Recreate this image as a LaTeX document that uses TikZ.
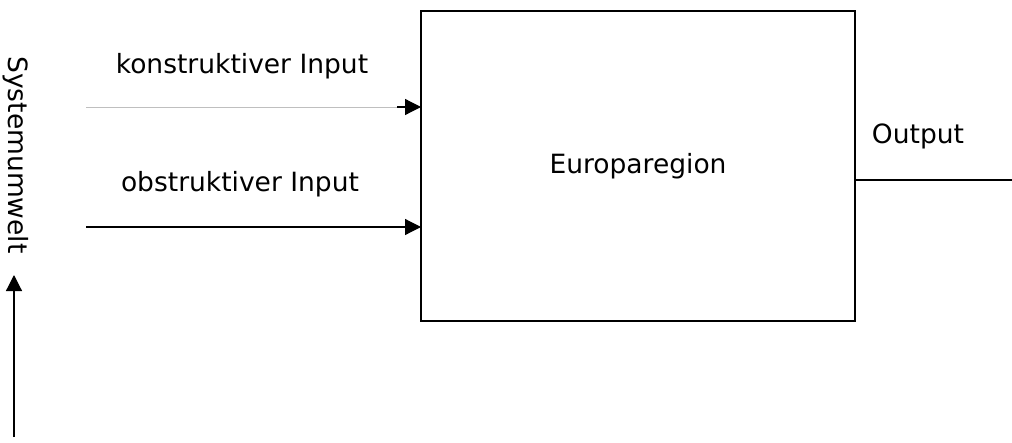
\documentclass[tikz,border=0pt]{standalone}
\usepackage{fontspec}
\setmainfont{DejaVu Sans}
\usetikzlibrary{arrows.meta,calc}
\begin{document}
\begin{tikzpicture}[x=1pt,y=-1pt,
  lbl/.style={font=\fontsize{26.5}{30}\selectfont, inner sep=0pt},
  arr/.style={line width=1.2pt, -{Triangle[length=16pt,width=16pt]}},
  ln/.style={line width=1.2pt}]
\useasboundingbox (0,0) rectangle (1012,442);
\node[draw, line width=1.5pt, minimum width=434pt, minimum height=310pt, inner sep=0pt] (box) at (638,166) {};
\node[lbl] (eu) at (638,166) {Europaregion};
\node[lbl] (k) at (242,66) {konstruktiver Input};
\node[lbl] (o) at (240,184) {obstruktiver Input};
\node[lbl] (out) at (918,136) {Output};
\node[lbl, rotate=-90] (sys) at (16,155) {Systemumwelt};
\coordinate (k0) at (86,107);
\coordinate (k1) at (421,107);
\coordinate (o0) at (86,227);
\coordinate (o1) at (421,227);
\coordinate (out0) at (855,180);
\coordinate (out1) at (1012,180);
\coordinate (s0) at (14,437);
\coordinate (s1) at (14,275);
\draw[draw=black!25, line width=0.8pt] (k0) -- ++(318,0);
\draw[arr] ($(k1)+(-24,0)$) -- (k1);
\draw[arr] (o0) -- (o1);
\draw[ln] (out0) -- (out1);
\draw[arr] (s0) -- (s1);
\end{tikzpicture}
\end{document}
